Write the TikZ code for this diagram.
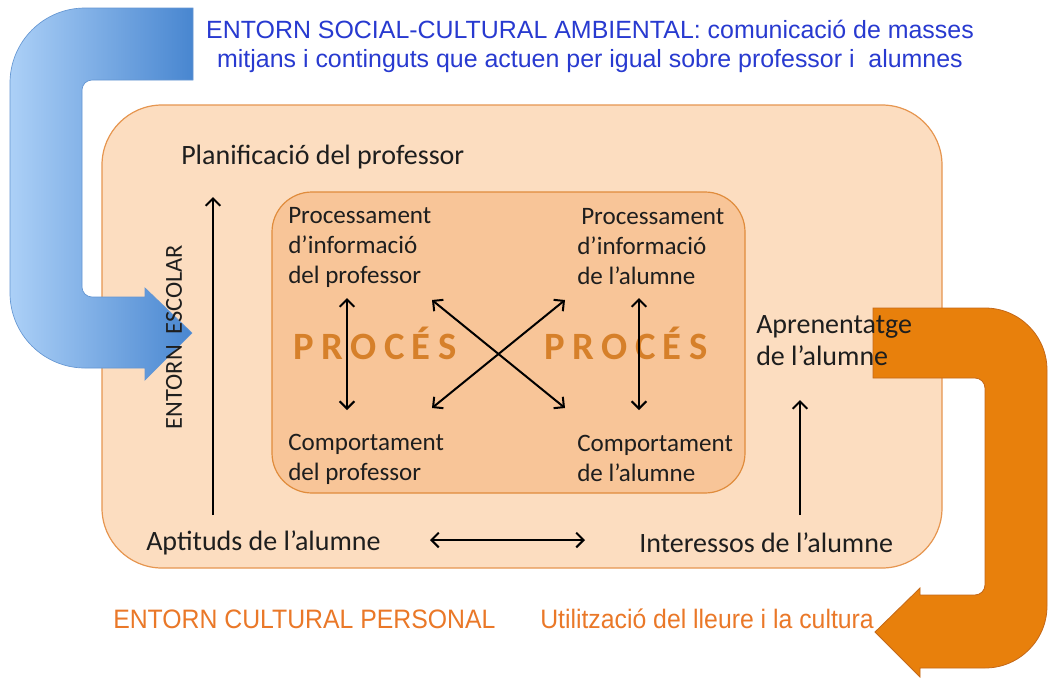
\documentclass[tikz,border=0pt]{standalone}
\usepackage{fontspec}
\setmainfont{Carlito}
\newfontfamily\arialf{Liberation Sans}
\newfontfamily\arialnarrow[FakeStretch=0.93]{Liberation Sans}
\usetikzlibrary{arrows.meta}
\definecolor{outerfill}{RGB}{252,221,192}
\definecolor{outerline}{RGB}{230,150,80}
\definecolor{innerfill}{RGB}{248,197,152}
\definecolor{innerline}{RGB}{224,140,60}
\definecolor{bluelight}{RGB}{172,208,247}
\definecolor{bluedark}{RGB}{72,134,208}
\definecolor{blueline}{RGB}{100,150,210}
\definecolor{orangearrow}{RGB}{232,128,12}
\definecolor{orangeline}{RGB}{196,104,24}
\definecolor{proccol}{RGB}{214,128,42}
\definecolor{bluetext}{RGB}{40,58,208}
\definecolor{orangetext}{RGB}{234,120,40}
\definecolor{labeltext}{RGB}{30,30,30}
\newcommand\procword{P\kern5.5pt R\kern5.5pt O\kern5.5pt C\kern5.5pt É\kern5.5pt S}
\begin{document}
\begin{tikzpicture}[x=0.75pt,y=-0.75pt,
  lbl/.style={font=\fontsize{21}{24}\selectfont, text=labeltext, inner sep=0pt, align=left, anchor=west},
  ilbl/.style={font=\fontsize{18.8}{22.5}\selectfont, text=labeltext, inner sep=0pt, align=left, anchor=west},
  proc/.style={font=\bfseries\fontsize{29}{30}\selectfont, text=proccol, inner sep=0pt},
  orangetxt/.style={font=\arialnarrow\fontsize{20}{22}\selectfont, text=orangetext, inner sep=0pt, anchor=west},
  twohead/.style={line width=1.5pt, {Straight Barb[length=5.5pt,width=11pt]}-{Straight Barb[length=5.5pt,width=11pt]}},
  onehead/.style={line width=1.5pt, -{Straight Barb[length=5.5pt,width=11pt]}}]
\useasboundingbox (0,0) rectangle (1051,679);
\fill[white] (0,0) rectangle (1051,679);
% boxes
\draw[fill=outerfill, draw=outerline, line width=0.9pt, rounded corners=45pt] (102,105) rectangle (942,568);
\draw[fill=innerfill, draw=innerline, line width=0.9pt, rounded corners=30pt] (272,192) rectangle (745,493);
% blue arrow
\draw[left color=bluelight, right color=bluedark, draw=blueline, line width=0.5pt]
  (193,8) -- (85,8) .. controls (43.6,8) and (10,41.6) .. (10,83)
  -- (10,293) .. controls (10,334.4) and (43.6,368) .. (85,368)
  -- (145,368) -- (145,380) -- (192,333) -- (145,288) -- (145,297)
  -- (92,297) .. controls (86.5,297) and (82,292.5) .. (82,287)
  -- (82,90) .. controls (82,84.5) and (86.5,80) .. (92,80)
  -- (193,80) -- cycle;
% orange arrow
\draw[fill=orangearrow, draw=orangeline, line width=0.6pt]
  (873,308) -- (985,308) .. controls (1019.2,308) and (1047,335.8) .. (1047,370)
  -- (1047,606) .. controls (1047,640.2) and (1019.2,668) .. (985,668)
  -- (920,668) -- (920,677) -- (875,632) -- (920,588) -- (920,595)
  -- (975,595) .. controls (980.5,595) and (985,590.5) .. (985,585)
  -- (985,388) .. controls (985,382.5) and (980.5,378) .. (975,378)
  -- (873,378) -- cycle;
% texts
\node[inner sep=0pt, text=bluetext, align=center, font=\arialf\fontsize{18.7}{21.75}\selectfont] (env) at (590,46)
  {ENTORN SOCIAL-CULTURAL AMBIENTAL: comunicació de masses\\mitjans i continguts que actuen per igual sobre professor i\ \ alumnes};
\node[lbl] (planif) at (181,157) {Planificació del professor};
\node[ilbl] (piprof) at (288,247) {Processament\\d’informació\\del professor};
\node[ilbl] (pialum) at (577,247) {\hspace*{3pt}Processament\\d’informació\\de l’alumne};
\node[ilbl] (cpprof) at (288,459) {Comportament\\del professor};
\node[ilbl] (cpalum) at (577,458) {Comportament\\de l’alumne};
\node[lbl] (apren) at (756,341) {Aprenentatge\\de l’alumne};
\node[lbl] (aptit) at (146,543) {Aptituds de l’alumne};
\node[lbl] (inter) at (639,543) {Interessos de l’alumne};
\node[inner sep=0pt, text=labeltext, rotate=90, font=\fontsize{18.3}{20}\selectfont] (escolar) at (174,337) {ENTORN\ \ ESCOLAR};
\node[proc] (procL) at (375,343) {\procword};
\node[proc] (procR) at (626,343) {\procword};
\node[orangetxt] (ecp) at (113,619) {ENTORN CULTURAL PERSONAL};
\node[orangetxt] (util) at (540,619) {Utilització del lleure i la cultura};
% connectors
\coordinate (a1) at (213,515); \coordinate (a2) at (213,197);
\coordinate (b1) at (800,515); \coordinate (b2) at (800,400);
\coordinate (c1) at (347,298); \coordinate (c2) at (347,410);
\coordinate (d1) at (639,298); \coordinate (d2) at (639,410);
\coordinate (e1) at (432,300); \coordinate (e2) at (565,408);
\coordinate (f1) at (565,300); \coordinate (f2) at (432,408);
\coordinate (g1) at (430,540); \coordinate (g2) at (585,540);
\draw[onehead] (a1) -- (a2);
\draw[onehead] (b1) -- (b2);
\draw[twohead] (c1) -- (c2);
\draw[twohead] (d1) -- (d2);
\draw[twohead] (e1) -- (e2);
\draw[twohead] (f1) -- (f2);
\draw[twohead] (g1) -- (g2);
\end{tikzpicture}
\end{document}
